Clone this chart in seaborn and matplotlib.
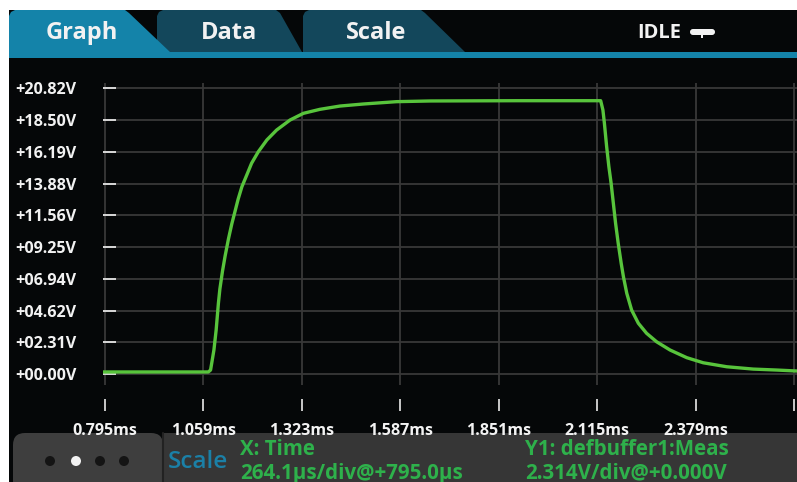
import matplotlib
matplotlib.use("Agg")
import matplotlib.pyplot as plt
from matplotlib.patches import Polygon, Rectangle, FancyBboxPatch, Circle
import seaborn as sns
import pandas as pd

# Captured buffer: time (ms) and measured voltage (V)
time_ms = [0.790, 1.072, 1.078, 1.084, 1.087, 1.093, 1.099, 1.103, 1.110, 1.117,
           1.126, 1.135, 1.144, 1.152, 1.162, 1.175, 1.188, 1.206, 1.229, 1.255,
           1.291, 1.327, 1.371, 1.425, 1.488, 1.577, 1.667, 1.900, 2.124, 2.130,
           2.134, 2.140, 2.146, 2.152, 2.158, 2.164, 2.171, 2.179, 2.185, 2.194,
           2.207, 2.225, 2.247, 2.274, 2.310, 2.355, 2.399, 2.462, 2.533, 2.596,
           2.650]
volts = [0.15, 0.15, 0.29, 1.26, 1.75, 3.21, 5.15, 6.20, 7.50, 8.60,
         9.85, 10.95, 11.90, 12.75, 13.65, 14.50, 15.36, 16.20, 17.06, 17.78,
         18.51, 19.00, 19.29, 19.53, 19.68, 19.85, 19.90, 19.92, 19.92, 19.24,
         18.27, 16.57, 15.11, 13.90, 12.44, 10.98, 9.53, 8.07, 7.09, 5.88,
         4.66, 3.70, 2.97, 2.35, 1.75, 1.19, 0.82, 0.53, 0.36, 0.29,
         0.22]

y_ticks = [0.00, 2.31, 4.62, 6.94, 9.25, 11.56, 13.88, 16.19, 18.50, 20.82]
y_labels = ["+00.00V", "+02.31V", "+04.62V", "+06.94V", "+09.25V",
            "+11.56V", "+13.88V", "+16.19V", "+18.50V", "+20.82V"]
x_ticks = [0.795, 1.059, 1.323, 1.587, 1.851, 2.115, 2.379, 2.643]
x_labels = ["0.795ms", "1.059ms", "1.323ms", "1.587ms", "1.851ms", "2.115ms", "2.379ms", ""]

tabs = ["Graph", "Data", "Scale"]
status = "IDLE"
x_info = ["X: Time", "264.1µs/div@+795.0µs"]
y_info = ["Y1: defbuffer1:Meas", "2.314V/div@+0.000V"]

df = pd.DataFrame({"time": time_ms, "volts": volts})

sns.set_theme(style="dark")
plt.rcParams["font.family"] = ["Open Sans", "DejaVu Sans"]

W, H = 797, 482
SCREEN = "#050708"
TAB_ON = "#1483a9"
TAB_OFF = "#13475b"
TRACE = "#58c43c"
INFO_GREEN = "#2eb14b"
WHITE = "#f2f2f2"

fig = plt.figure(figsize=(W / 100, H / 100), dpi=100, facecolor="white")

# ---- screen chrome, drawn in pixel coordinates ----
bg = fig.add_axes([0, 0, 1, 1], zorder=0)
bg.set_xlim(0, W)
bg.set_ylim(H, 0)
bg.axis("off")

bg.add_patch(Rectangle((9, 10), W - 9, H - 10, color=SCREEN, lw=0))

# tabs (Data first so Graph and Scale overlap it)
bg.add_patch(Polygon([(157, 52), (157, 16), (159, 12), (163, 10), (276, 10),
                      (280, 13), (302, 52)], closed=True, color=TAB_OFF, lw=0))
bg.add_patch(Polygon([(303, 52), (303, 16), (305, 12), (309, 10), (421, 10),
                      (425, 13), (465, 52)], closed=True, color=TAB_OFF, lw=0))
bg.add_patch(Polygon([(9, 52), (9, 16), (11, 12), (15, 10), (125, 10),
                      (129, 13), (170, 52)], closed=True, color=TAB_ON, lw=0))
bg.add_patch(Rectangle((9, 52), W - 9, 6, color=TAB_ON, lw=0))

for label, cx in zip(tabs, [82, 229, 376]):
    bg.text(cx, 33, label, color=WHITE, fontsize=17, fontweight="bold",
            ha="center", va="center")

bg.text(637, 33, status, color=WHITE, fontsize=14.5, fontweight="bold",
        ha="left", va="center")
bg.add_patch(FancyBboxPatch((690, 29), 25, 6, boxstyle="round,pad=0,rounding_size=3",
                            color=WHITE, lw=0))
bg.add_patch(Rectangle((701, 34), 2.5, 4, color=WHITE, lw=0))

# bottom information panel
bg.add_patch(FancyBboxPatch((13, 433), 150, 60, boxstyle="round,pad=0,rounding_size=12",
                            color="#3e3e3e", lw=0))
bg.add_patch(Rectangle((163, 433), W - 163, 60, color="#363636", lw=0))
bg.plot([163, 163], [433, H], color="#222222", lw=1.5)
for i, cx in enumerate([50, 76, 100, 124]):
    bg.add_patch(Circle((cx, 461), 5, color=WHITE if i == 1 else "#141414", lw=0))

bg.text(168, 462, "Scale", color="#1b80a7", fontsize=17.5, fontweight="semibold",
        ha="left", va="center")
bg.text(240, 455, x_info[0], color=INFO_GREEN, fontsize=14.8, fontweight="bold",
        ha="left", va="baseline")
bg.text(240, 478.5, x_info[1], color=INFO_GREEN, fontsize=14.8, fontweight="bold",
        ha="left", va="baseline")
bg.text(525, 455, y_info[0], color=INFO_GREEN, fontsize=14.8, fontweight="bold",
        ha="left", va="baseline")
bg.text(525, 478.5, y_info[1], color=INFO_GREEN, fontsize=14.8, fontweight="bold",
        ha="left", va="baseline")

# ---- the trace ----
left, right, top, bottom = 103, 797, 83, 385
ax = fig.add_axes([left / W, (H - bottom) / H, (right - left) / W, (bottom - top) / H],
                  zorder=1)
ax.set_facecolor(SCREEN)

sns.lineplot(data=df, x="time", y="volts", ax=ax, color=TRACE, lw=2.4,
             estimator=None, sort=False, zorder=3)

ax.set_xlim(0.7896, 2.6504)
ax.set_ylim(-0.80, 21.21)
ax.set_xticks(x_ticks, labels=x_labels)
ax.set_yticks(y_ticks, labels=y_labels)
ax.set_xlabel("")
ax.set_ylabel("")
ax.grid(True, color="#383838", lw=1.3)
for s in ax.spines.values():
    s.set_visible(False)
ax.spines["bottom"].set_position(("outward", 10))

ax.tick_params(axis="y", direction="in", length=9.5, width=1.4, color="#d8d8d8",
               pad=19, labelsize=11.6, labelcolor=WHITE, left=True)
ax.tick_params(axis="x", direction="out", length=8.5, width=1.3, color="#d8d8d8",
               pad=9, labelsize=11.6, labelcolor=WHITE, bottom=True)
for t in ax.get_xticklabels() + ax.get_yticklabels():
    t.set_fontweight("bold")

fig.savefig("out.png", dpi=100, facecolor="white")
